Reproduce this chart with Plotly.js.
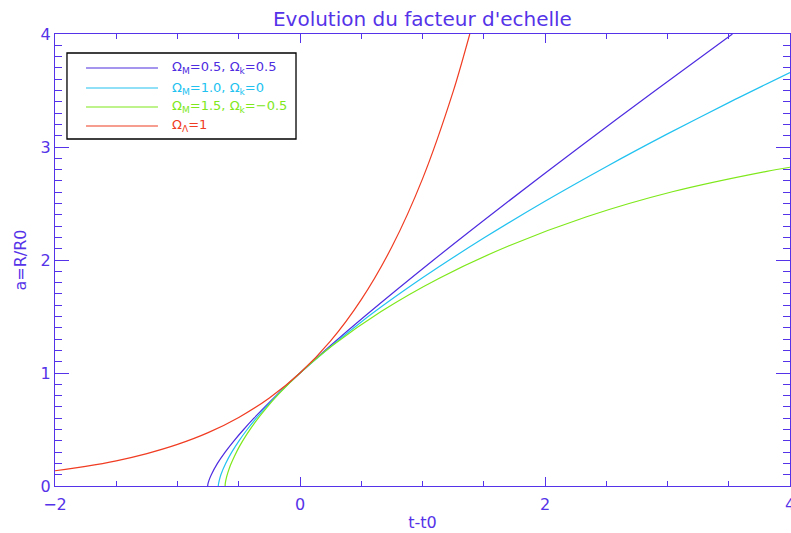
<!DOCTYPE html>
<html>
<head>
<meta charset="utf-8">
<script src="https://cdn.plot.ly/plotly-3.0.1.min.js"></script>
<style>html,body{margin:0;padding:0;background:#fff;}#chart{width:791px;height:533px;}</style>
</head>
<body>
<div id="chart"></div>
<script>
// Series (x = t - t0, y = a = R/R0)
const tOpen = [-0.754, -0.751, -0.743, -0.724, -0.674, -0.611, -0.539, -0.460, -0.376, -0.287, -0.195, -0.099, 0.0, 0.257, 0.526, 1.090, 1.678, 2.283, 2.901, 3.530];
const aOpen = [0.0, 0.02, 0.05, 0.1, 0.2, 0.3, 0.4, 0.5, 0.6, 0.7, 0.8, 0.9, 1.0, 1.25, 1.5, 2.0, 2.5, 3.0, 3.5, 4.0];

const tFlat = [-0.667, -0.665, -0.659, -0.646, -0.607, -0.557, -0.498, -0.431, -0.357, -0.276, -0.190, -0.098, 0.0, 0.5, 1.0, 1.5, 2.0, 2.5, 3.0, 3.5, 4.0];
const aFlat = [0.0, 0.02, 0.05, 0.1, 0.2, 0.3, 0.4, 0.5, 0.6, 0.7, 0.8, 0.9, 1.0, 1.452, 1.842, 2.194, 2.520, 2.826, 3.116, 3.393, 3.659];

const tClosed = [-0.611, -0.611, -0.609, -0.602, -0.589, -0.568, -0.536, -0.493, -0.436, -0.364, -0.275, -0.169, 0.0, 0.268, 0.662, 1.141, 1.702, 2.340, 3.047, 3.810, 4.0];
const aClosed = [0.0, 0.0075, 0.030, 0.067, 0.118, 0.184, 0.262, 0.353, 0.455, 0.568, 0.690, 0.820, 1.0, 1.245, 1.544, 1.841, 2.124, 2.383, 2.606, 2.785, 2.821];

const tLambda = [-2.0, -1.75, -1.5, -1.25, -1.0, -0.75, -0.5, -0.25, 0.0, 0.25, 0.5, 0.75, 1.0, 1.25, 1.386];
const aLambda = [0.135, 0.174, 0.223, 0.287, 0.368, 0.472, 0.607, 0.779, 1.0, 1.284, 1.649, 2.117, 2.718, 3.490, 4.0];

const seriesNames = [
  "Ω<sub>M</sub>=0.5, Ω<sub>k</sub>=0.5",
  "Ω<sub>M</sub>=1.0, Ω<sub>k</sub>=0",
  "Ω<sub>M</sub>=1.5, Ω<sub>k</sub>=−0.5",
  "Ω<sub>Λ</sub>=1"
];
const colors = ["#4e2ce0", "#22c2f0", "#7ee81a", "#f03c22"];
const xTickVals = [-2, 0, 2, 4];
const xTickText = ["−2", "0", "2", "4"];
const yTickVals = [0, 1, 2, 3, 4];
const xs = [tOpen, tFlat, tClosed, tLambda];
const ys = [aOpen, aFlat, aClosed, aLambda];

const axisColor = "#5533e8";
const font = "DejaVu Sans, Liberation Sans, sans-serif";

const traces = xs.map((x, i) => ({
  x: x, y: ys[i], type: "scatter", mode: "lines", name: seriesNames[i],
  line: {color: colors[i], width: 1.2, shape: "spline", smoothing: 0.8},
  showlegend: false, hoverinfo: "skip"
}));

// Hand-built legend box (paper coordinates)
const legX0 = 0.0163, legX1 = 0.3279, legY0 = 0.7677, legY1 = 0.958;
const rowY = [0.9248, 0.8805, 0.8385, 0.7965];
const shapes = [{type: "rect", xref: "paper", yref: "paper", x0: legX0, x1: legX1, y0: legY0, y1: legY1,
  line: {color: "#000", width: 1.3}, fillcolor: "rgba(255,255,255,1)", layer: "above"}];
const annotations = [];
rowY.forEach((yy, i) => {
  shapes.push({type: "line", xref: "paper", yref: "paper", x0: 0.0422, x1: 0.1401, y0: yy, y1: yy,
    line: {color: colors[i], width: 1.2}, layer: "above"});
  annotations.push({xref: "paper", yref: "paper", x: 0.1565, y: yy, xanchor: "left", yanchor: "middle",
    text: seriesNames[i], showarrow: false, font: {family: font, size: 13, color: colors[i]}});
});

const layout = {
  width: 791, height: 533,
  margin: {l: 55, r: 1, t: 34, b: 47},
  paper_bgcolor: "#fff", plot_bgcolor: "#fff",
  title: {text: "Evolution du facteur d'echelle", x: 0.534, xanchor: "center", y: 0.965, yanchor: "middle",
    font: {family: font, size: 20, color: axisColor}},
  xaxis: {
    range: [-2, 4], tickvals: xTickVals, ticktext: xTickText, ticklabeloverflow: "allow", ticklabelstandoff: 4,
    showgrid: false, zeroline: false, showline: true, linecolor: axisColor, linewidth: 1, mirror: "ticks",
    ticks: "inside", ticklen: 9, tickcolor: axisColor, tickwidth: 1,
    minor: {dtick: 0.5, tick0: 0, ticks: "inside", ticklen: 5, tickcolor: axisColor, tickwidth: 1, showgrid: false},
    tickfont: {family: font, size: 16, color: axisColor},
    title: {text: "t-t0", font: {family: font, size: 16, color: axisColor}, standoff: 3}
  },
  yaxis: {
    range: [0, 4], tickvals: yTickVals, ticklabeloverflow: "allow",
    showgrid: false, zeroline: false, showline: true, linecolor: axisColor, linewidth: 1, mirror: "ticks",
    ticks: "inside", ticklen: 14, tickcolor: axisColor, tickwidth: 1,
    minor: {dtick: 0.1, tick0: 0, ticks: "inside", ticklen: 7, tickcolor: axisColor, tickwidth: 1, showgrid: false},
    tickfont: {family: font, size: 16, color: axisColor},
    title: {text: "a=R/R0", font: {family: font, size: 16, color: axisColor}, standoff: 10}
  },
  shapes: shapes,
  annotations: annotations,
  showlegend: false
};

Plotly.newPlot("chart", traces, layout, {staticPlot: true, displayModeBar: false});
</script>
</body>
</html>
